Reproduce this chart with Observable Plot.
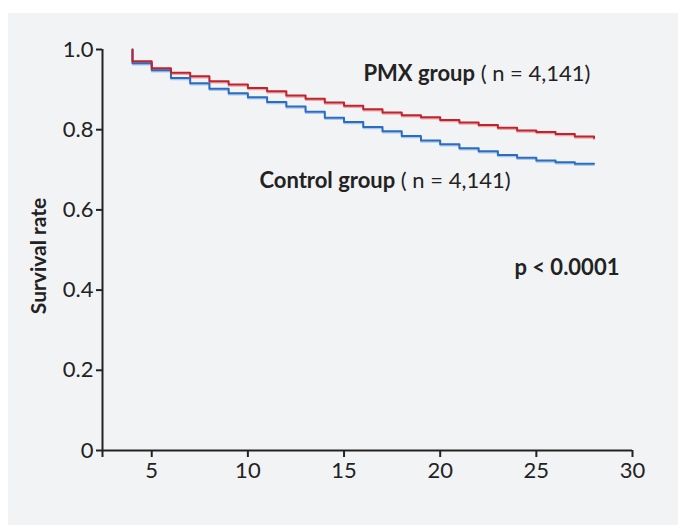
<!DOCTYPE html>
<html>
<head>
<meta charset="utf-8">
<script src="https://cdn.jsdelivr.net/npm/d3@7"></script>
<script src="https://cdn.jsdelivr.net/npm/@observablehq/plot@0.6"></script>
<style>
  html, body { margin: 0; padding: 0; background: #ffffff; }
  #panel { position: absolute; left: 8px; top: 13px; width: 670px; height: 512px; background: #f2f3f5; }
  #chart { position: absolute; left: 0; top: 0; }
  #chart svg { background: transparent; }
</style>
</head>
<body>
<div id="panel"></div>
<div id="chart"></div>
<script>
// Day (x) values for the step curves; the first entry is the start at 1.0
const days = [4, 4, 5, 6, 7, 8, 9, 10, 11, 12, 13, 14, 15, 16, 17, 18, 19, 20, 21, 22, 23, 24, 25, 26, 27, 28];
const pmxSurvival = [1.0, 0.971, 0.953, 0.942, 0.933, 0.921, 0.913, 0.904, 0.896, 0.885, 0.877, 0.868, 0.860, 0.851, 0.843, 0.836, 0.831, 0.824, 0.818, 0.812, 0.805, 0.798, 0.794, 0.789, 0.783, 0.779];
const controlSurvival = [1.0, 0.966, 0.948, 0.929, 0.916, 0.902, 0.891, 0.881, 0.869, 0.858, 0.845, 0.830, 0.819, 0.807, 0.796, 0.784, 0.773, 0.764, 0.754, 0.746, 0.737, 0.730, 0.723, 0.719, 0.715, 0.715];
const xTicks = [5, 10, 15, 20, 25, 30];
const yTicks = [0, 0.2, 0.4, 0.6, 0.8, 1.0];
const yTickLabels = ["0", "0.2", "0.4", "0.6", "0.8", "1.0"];
const labels = [
  {x: 16.01, y: 0.940, bold: "PMX group", rest: " ( n = 4,141)"},
  {x: 10.6, y: 0.673, bold: "Control group", rest: " ( n = 4,141)"},
  {x: 23.86, y: 0.454, bold: "p < 0.0001", rest: ""}
];
const yTitle = "Survival rate";

const pmx = days.map((d, i) => ({day: d, s: pmxSurvival[i]}));
const ctl = days.map((d, i) => ({day: d, s: controlSurvival[i]}));
const xMin = 2.44;
const FONT = "Lato, 'Open Sans', sans-serif";
const ink = "#222222";

const plot = Plot.plot({
  width: 678,
  height: 525,
  marginLeft: 102,
  marginRight: 46,
  marginTop: 49,
  marginBottom: 75,
  style: {fontFamily: FONT, background: "transparent", color: ink},
  x: {domain: [xMin, 30]},
  y: {domain: [0, 1]},
  marks: [
    // axes
    Plot.ruleY([0], {stroke: ink, strokeWidth: 2}),
    Plot.ruleX([xMin], {y1: 0, y2: 1, stroke: ink, strokeWidth: 2}),
    Plot.axisX({ticks: [xMin, ...xTicks], tickFormat: d => d === xMin ? "" : String(d), tickSize: 7, tickPadding: 5, fontSize: 22, stroke: ink, strokeWidth: 2, label: null}),
    Plot.axisY({ticks: yTicks, tickFormat: d => yTickLabels[yTicks.indexOf(d)], tickSize: 6, tickPadding: 3, fontSize: 22, stroke: ink, strokeWidth: 2, label: null}),
    Plot.text([yTitle], {frameAnchor: "left", textAnchor: "middle", dx: -63, dy: 6, rotate: -90, fontSize: 21, fontWeight: "bold", fill: ink}),
    // light shadow lines
    Plot.line(ctl, {x: "day", y: "s", curve: "step-after", stroke: "#a9c7ec", strokeWidth: 1.5, dy: 1.5}),
    Plot.line(pmx, {x: "day", y: "s", curve: "step-after", stroke: "#eaa7ab", strokeWidth: 1.5, dy: 1.5}),
    // survival curves
    Plot.line(ctl, {x: "day", y: "s", curve: "step-after", stroke: "#2a6cc0", strokeWidth: 2}),
    Plot.line(pmx, {x: "day", y: "s", curve: "step-after", stroke: "#c0232b", strokeWidth: 2}),
    // annotations
    Plot.text(labels, {x: "x", y: "y", text: d => d.bold + d.rest, textAnchor: "start", fontSize: 22, fill: ink, className: "lbl"})
  ]
});

// make the group names bold, keep the counts normal
d3.select(plot).selectAll(".lbl text").each(function(d, i) {
  const lab = labels[i];
  const sel = d3.select(this);
  sel.text(null);
  sel.append("tspan").attr("font-weight", "bold").text(lab.bold);
  if (lab.rest) sel.append("tspan").attr("font-weight", "normal").text(lab.rest);
});

document.getElementById("chart").appendChild(plot);
</script>
</body>
</html>
